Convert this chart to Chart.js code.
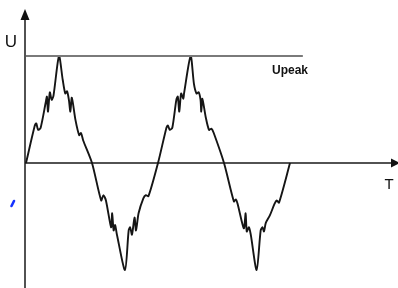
<!DOCTYPE html>
<html>
<head>
<meta charset="utf-8">
<script src="https://cdn.jsdelivr.net/npm/chart.js@4/dist/chart.umd.min.js"></script>
<style>
    html, body { margin: 0; padding: 0; background: #fff; }
    #wrap { width: 398px; height: 288px; }
</style>
</head>
<body>
<div id="wrap"><canvas id="waveChart" width="398" height="288"></canvas></div>
<script>
// phase in degrees, voltage relative to Upeak
const phase = [
    0, 24, 28, 33, 40, 54, 57, 60, 65, 70, 75, 90, 100, 107, 112, 117, 121, 125, 135, 145, 150, 156, 180,
    205, 211, 218, 232, 235, 239, 243, 248, 270, 280, 284, 289, 296, 300, 307, 320, 327, 334, 360,
    383, 387, 392, 399, 410, 414, 418, 423, 429, 431, 449, 458, 465, 471, 476, 478, 481, 490, 499, 506, 512, 540,
    567, 572, 577, 594, 599, 602, 608, 613, 629, 640, 645, 649, 654, 665, 678, 684, 690, 720
];
const voltage = [
    0, 0.35, 0.37, 0.31, 0.33, 0.57, 0.62, 0.48, 0.66, 0.59, 0.63, 1.0, 0.78, 0.65, 0.67, 0.59, 0.48, 0.61, 0.40, 0.26, 0.28, 0.21, 0,
    -0.35, -0.30, -0.35, -0.60, -0.47, -0.63, -0.58, -0.67, -1.0, -0.63, -0.60, -0.67, -0.51, -0.63, -0.47, -0.33, -0.30, -0.31, 0,
    0.33, 0.35, 0.31, 0.33, 0.59, 0.62, 0.48, 0.65, 0.60, 0.65, 1.0, 0.74, 0.65, 0.66, 0.59, 0.48, 0.60, 0.43, 0.31, 0.32, 0.28, 0,
    -0.36, -0.34, -0.38, -0.61, -0.47, -0.64, -0.60, -0.67, -1.0, -0.63, -0.60, -0.64, -0.56, -0.49, -0.38, -0.35, -0.37, 0
];
const peakPhase = [0, 755];
const peakLevel = [1, 1];

const wavePoints = phase.map((p, i) => ({ x: p, y: voltage[i] }));
const peakPoints = peakPhase.map((p, i) => ({ x: p, y: peakLevel[i] }));

const axesPlugin = {
    id: 'axes',
    beforeDatasetsDraw(chart) {
        const ctx = chart.ctx;
        const xs = chart.scales.x;
        const ys = chart.scales.y;
        const x0 = xs.getPixelForValue(0) - 1;
        const y0 = ys.getPixelForValue(0);

        ctx.save();
        ctx.strokeStyle = '#1a1a1a';
        ctx.fillStyle = '#111';
        ctx.lineWidth = 1.5;

        ctx.beginPath();
        ctx.moveTo(x0, 18);
        ctx.lineTo(x0, 288);
        ctx.moveTo(x0, y0);
        ctx.lineTo(392, y0);
        ctx.stroke();

        // arrow heads
        ctx.beginPath();
        ctx.moveTo(x0, 9);
        ctx.lineTo(x0 - 4.5, 20);
        ctx.lineTo(x0 + 4.5, 20);
        ctx.closePath();
        ctx.fill();

        ctx.beginPath();
        ctx.moveTo(400, y0);
        ctx.lineTo(391, y0 - 4.5);
        ctx.lineTo(391, y0 + 4.5);
        ctx.closePath();
        ctx.fill();

        // labels
        ctx.font = '17px "Liberation Sans", Arial, sans-serif';
        ctx.textAlign = 'center';
        ctx.textBaseline = 'alphabetic';
        ctx.fillText('U', 11, 47);
        ctx.font = '15px "Liberation Sans", Arial, sans-serif';
        ctx.fillText('T', 389, 189);
        ctx.font = 'bold 12px "Liberation Sans", Arial, sans-serif';
        ctx.textAlign = 'left';
        ctx.fillText('Upeak', 272, 74);

        // small blue stroke at left
        ctx.strokeStyle = '#1533ff';
        ctx.lineWidth = 2.6;
        ctx.lineCap = 'round';
        ctx.beginPath();
        ctx.moveTo(11.5, 206);
        ctx.lineTo(14, 201);
        ctx.stroke();
        ctx.restore();
    }
};

new Chart(document.getElementById('waveChart'), {
    type: 'scatter',
    data: {
        datasets: [
            {
                label: 'Upeak',
                data: peakPoints,
                showLine: true,
                borderColor: '#7a7a7a',
                borderWidth: 2,
                pointRadius: 0,
                clip: false
            },
            {
                label: 'U',
                data: wavePoints,
                showLine: true,
                borderColor: '#151515',
                borderWidth: 1.9,
                tension: 0.25,
                pointRadius: 0,
                clip: false
            }
        ]
    },
    options: {
        responsive: false,
        animation: false,
        layout: { padding: { left: 26, right: 0, top: 0, bottom: 0 } },
        plugins: {
            legend: { display: false },
            tooltip: { enabled: false }
        },
        scales: {
            x: { type: 'linear', display: false, min: 0, max: 1014.5 },
            y: { display: false, min: -1.168, max: 1.523 }
        }
    }
    ,
    plugins: [axesPlugin]
});
</script>
</body>
</html>
